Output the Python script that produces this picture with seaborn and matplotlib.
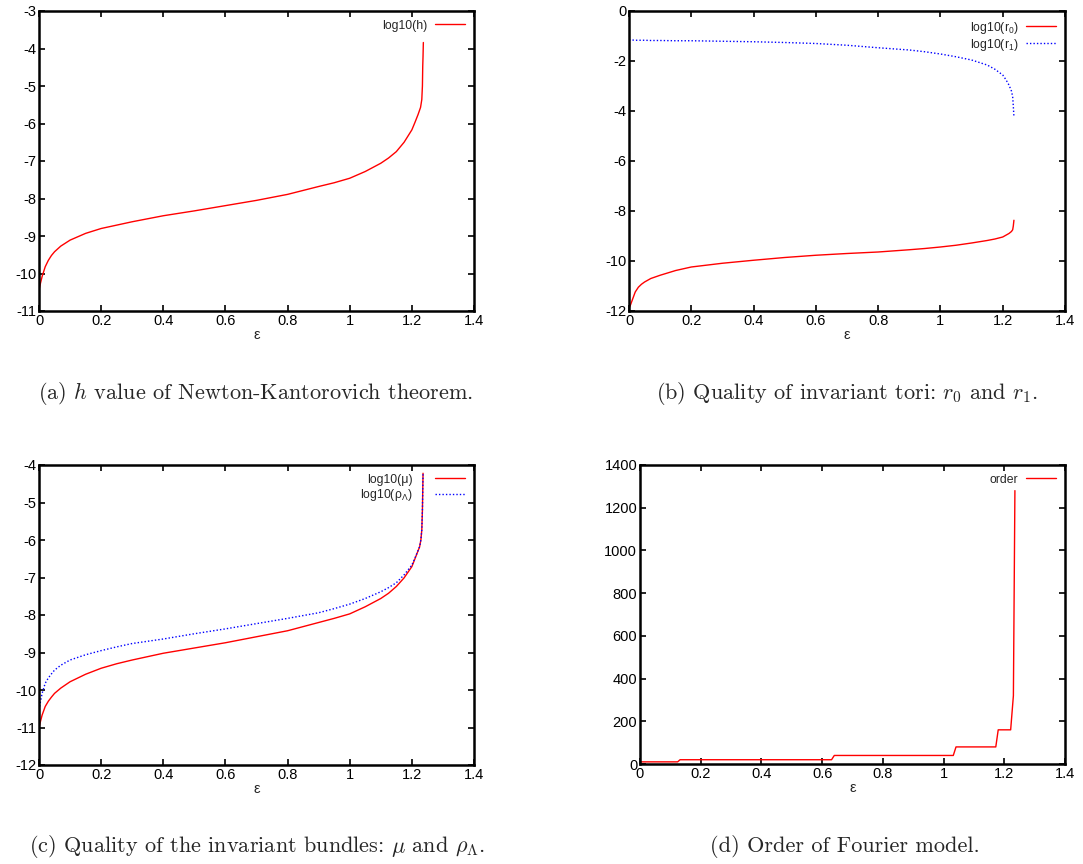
import numpy as np
import pandas as pd
import matplotlib
matplotlib.use("Agg")
import matplotlib.pyplot as plt
import seaborn as sns

# ---------------- data ----------------
eps_a = [0.0, 0.005, 0.01, 0.02, 0.03, 0.04, 0.05, 0.07, 0.10, 0.15, 0.20, 0.25,
         0.30, 0.40, 0.50, 0.60, 0.70, 0.80, 0.90, 0.95, 1.00, 1.05, 1.10, 1.125,
         1.15, 1.175, 1.20, 1.21, 1.22, 1.228, 1.232, 1.234, 1.235, 1.236, 1.237]
log_h = [-10.44, -10.25, -10.08, -9.82, -9.65, -9.52, -9.42, -9.27, -9.11, -8.93,
         -8.80, -8.71, -8.62, -8.46, -8.33, -8.19, -8.05, -7.89, -7.68, -7.58,
         -7.46, -7.28, -7.06, -6.92, -6.75, -6.50, -6.17, -5.97, -5.76, -5.57,
         -5.36, -5.00, -4.48, -4.20, -3.84]

eps_b = [0.0, 0.005, 0.01, 0.02, 0.03, 0.04, 0.05, 0.07, 0.10, 0.15, 0.20, 0.30,
         0.40, 0.50, 0.60, 0.70, 0.80, 0.90, 0.95, 1.00, 1.05, 1.10, 1.15, 1.175,
         1.20, 1.21, 1.22, 1.228, 1.232, 1.234, 1.236]
log_r0 = [-11.90, -11.75, -11.58, -11.24, -11.05, -10.93, -10.84, -10.70, -10.57,
          -10.38, -10.24, -10.09, -9.97, -9.86, -9.77, -9.70, -9.64, -9.55, -9.50,
          -9.44, -9.37, -9.28, -9.18, -9.12, -9.04, -8.97, -8.90, -8.82, -8.75,
          -8.60, -8.37]
log_r1 = [-1.16, -1.16, -1.16, -1.17, -1.17, -1.17, -1.17, -1.18, -1.18, -1.19,
          -1.19, -1.21, -1.23, -1.26, -1.30, -1.37, -1.47, -1.56, -1.63, -1.72,
          -1.83, -1.96, -2.16, -2.33, -2.56, -2.74, -2.96, -3.20, -3.43, -3.80,
          -4.23]

eps_c = [0.0, 0.005, 0.01, 0.02, 0.03, 0.04, 0.05, 0.07, 0.10, 0.15, 0.20, 0.25,
         0.30, 0.40, 0.50, 0.60, 0.70, 0.80, 0.90, 0.95, 1.00, 1.05, 1.10, 1.125,
         1.15, 1.175, 1.20, 1.21, 1.225, 1.229, 1.232, 1.234, 1.236]
log_mu = [-11.00, -10.83, -10.67, -10.44, -10.30, -10.19, -10.09, -9.95, -9.78,
          -9.58, -9.42, -9.30, -9.20, -9.02, -8.88, -8.74, -8.58, -8.42, -8.20,
          -8.09, -7.97, -7.78, -7.56, -7.42, -7.24, -7.01, -6.71, -6.50, -6.18,
          -6.00, -5.73, -5.20, -4.22]
log_rho = [-10.53, -10.30, -10.09, -9.82, -9.68, -9.57, -9.47, -9.34, -9.20,
           -9.06, -8.95, -8.85, -8.76, -8.64, -8.50, -8.37, -8.23, -8.09, -7.94,
           -7.83, -7.71, -7.56, -7.38, -7.27, -7.14, -6.93, -6.67, -6.48, -6.18,
           -6.00, -5.73, -5.20, -4.22]

eps_d = [0.0, 0.124, 0.132, 0.631, 0.640, 1.032, 1.041, 1.172, 1.180, 1.221,
         1.230, 1.235]
order = [10, 10, 20, 20, 40, 40, 80, 80, 160, 160, 320, 1280]

x_ticks = [0, 0.2, 0.4, 0.6, 0.8, 1, 1.2, 1.4]
x_ticklabels = ["0", "0.2", "0.4", "0.6", "0.8", "1", "1.2", "1.4"]

captions = [
    r"(a) $h$ value of Newton-Kantorovich theorem.",
    r"(b) Quality of invariant tori: $r_0$ and $r_1$.",
    r"(c) Quality of the invariant bundles: $\mu$ and $\rho_\Lambda$.",
    r"(d) Order of Fourier model.",
]

# ---------------- style ----------------
sns.set_style("ticks")
plt.rcParams["font.family"] = ["Liberation Sans", "DejaVu Sans"]
plt.rcParams["mathtext.fontset"] = "custom"
plt.rcParams["mathtext.rm"] = "Liberation Sans"
plt.rcParams["mathtext.it"] = "Liberation Sans"
plt.rcParams["mathtext.sf"] = "Liberation Sans"
plt.rcParams["axes.linewidth"] = 1.8
plt.rcParams["xtick.direction"] = "in"
plt.rcParams["ytick.direction"] = "in"

W, H = 1083, 864
fig = plt.figure(figsize=(W / 100, H / 100), dpi=100)
fig.patch.set_facecolor("white")


def px_axes(left, right, top, bottom):
    return fig.add_axes([left / W, 1 - bottom / H, (right - left) / W, (bottom - top) / H])


def style(ax, ylim, yticks):
    ax.set_xlim(0, 1.4)
    ax.set_ylim(*ylim)
    ax.set_xticks(x_ticks)
    ax.set_xticklabels(x_ticklabels)
    ax.set_yticks(yticks)
    ax.set_yticklabels([str(t) for t in yticks])
    ax.tick_params(axis="both", which="major", length=4, width=1.2, labelsize=10.5,
                   top=True, right=True, pad=2, colors="black")
    for s in ax.spines.values():
        s.set_visible(True)
        s.set_color("black")
    ax.set_xlabel("ε", fontsize=10.5, labelpad=0)
    ax.set_ylabel("")
    ax.set_facecolor("white")


def legend(ax, textpad=0.6):
    leg = ax.legend(loc="upper right", frameon=False, markerfirst=False,
                    fontsize=8.8, handlelength=2.5, handletextpad=textpad,
                    borderaxespad=0.3, labelspacing=0.1)
    for t in leg.get_texts():
        t.set_ha("right")


# (a)
ax_a = px_axes(39, 474, 11, 311)
df_a = pd.DataFrame({"eps": eps_a, "val": log_h})
sns.lineplot(data=df_a, x="eps", y="val", ax=ax_a, color="red", lw=1.0,
             sort=False, estimator=None, label="log10(h)")
style(ax_a, (-11, -3), list(range(-11, -2)))
legend(ax_a)

# (b)
ax_b = px_axes(629, 1065, 11, 311)
df_b = pd.DataFrame({"eps": eps_b, "r0": log_r0, "r1": log_r1})
sns.lineplot(data=df_b, x="eps", y="r0", ax=ax_b, color="red", lw=1.0,
             sort=False, estimator=None, label=r"log10(r$_0$)")
sns.lineplot(data=df_b, x="eps", y="r1", ax=ax_b, color="blue", lw=1.0,
             linestyle=(0, (1, 1.5)), sort=False, estimator=None,
             label=r"log10(r$_1$)")
style(ax_b, (-12, 0), list(range(-12, 1, 2)))
legend(ax_b)

# (c)
ax_c = px_axes(39, 474, 465, 765)
df_c = pd.DataFrame({"eps": eps_c, "mu": log_mu, "rho": log_rho})
sns.lineplot(data=df_c, x="eps", y="mu", ax=ax_c, color="red", lw=1.0,
             sort=False, estimator=None, label="log10(μ)")
sns.lineplot(data=df_c, x="eps", y="rho", ax=ax_c, color="blue", lw=1.0,
             linestyle=(0, (1, 1.5)), sort=False, estimator=None,
             label=r"log10(ρ$_{\Lambda}$)")
style(ax_c, (-12, -4), list(range(-12, -3)))
legend(ax_c, textpad=1.8)

# (d)
ax_d = px_axes(640, 1065, 465, 764)
df_d = pd.DataFrame({"eps": eps_d, "order": order})
sns.lineplot(data=df_d, x="eps", y="order", ax=ax_d, color="red", lw=1.0,
             sort=False, estimator=None, label="order")
style(ax_d, (0, 1400), list(range(0, 1401, 200)))
legend(ax_d)

# captions
cap_pos = [(255, 393), (847, 393), (257, 847), (845, 847)]
for (cx, cy), txt in zip(cap_pos, captions):
    fig.text(cx / W, 1 - cy / H, txt, ha="center", va="center",
             fontsize=16, family="cmr10", math_fontfamily="cm")

fig.savefig("out.png", dpi=100, facecolor="white")
